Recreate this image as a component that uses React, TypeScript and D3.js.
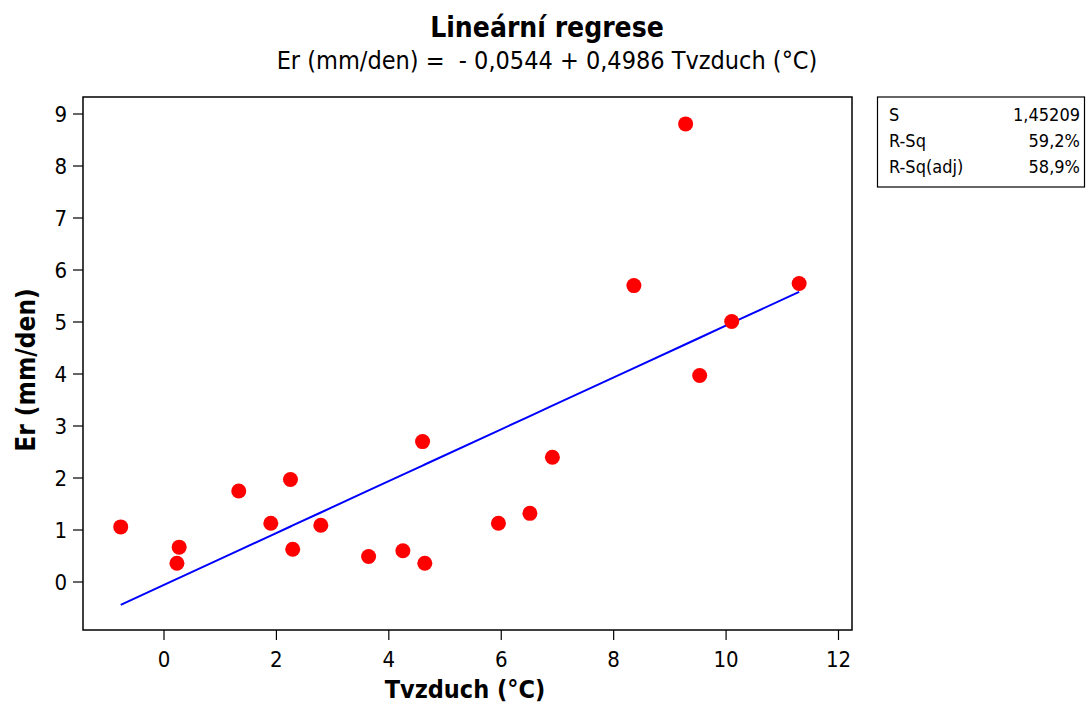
import * as d3 from "d3";

// Tvzduch (°C) vs Er (mm/den)
const tvzduch = [-0.77, 0.23, 0.27, 1.33, 1.9, 2.25, 2.29, 2.79, 3.64, 4.25, 4.64, 4.6, 5.95, 6.51, 6.91, 8.36, 9.28, 9.53, 10.1, 11.3];
const er = [1.06, 0.36, 0.67, 1.75, 1.13, 1.97, 0.63, 1.09, 0.49, 0.6, 0.36, 2.7, 1.13, 1.32, 2.4, 5.7, 8.81, 3.97, 5.01, 5.74];

const xTicks = [0, 2, 4, 6, 8, 10, 12];
const yTicks = [0, 1, 2, 3, 4, 5, 6, 7, 8, 9];

const intercept = -0.0544;
const slope = 0.4986;

const statLabels = ["S", "R-Sq", "R-Sq(adj)"];
const statValues = ["1,45209", "59,2%", "58,9%"];

const W = 1088;
const H = 706;
const FRAME = { left: 83, right: 852, top: 97, bottom: 630 };
const FONT = "'DejaVu Sans Condensed', 'DejaVu Sans', sans-serif";

export default function App() {
  const x = d3.scaleLinear().domain([0, 12]).range([164, 838.5]);
  const y = d3.scaleLinear().domain([0, 9]).range([582, 114]);

  const fitted = tvzduch
    .map((t) => ({ t, v: intercept + slope * t }))
    .sort((a, b) => a.t - b.t);

  const line = d3
    .line<{ t: number; v: number }>()
    .x((d) => x(d.t))
    .y((d) => y(d.v));

  return (
    <svg width={W} height={H} style={{ position: "absolute", left: 0, top: 0, background: "#fff" }} fontFamily={FONT}>
      {/* titles */}
      <text x={547} y={37} textAnchor="middle" fontSize={28} fontWeight="bold">
        Lineární regrese
      </text>
      <text x={547} y={69} textAnchor="middle" fontSize={25} style={{ whiteSpace: "pre" }}>
        {"Er (mm/den) =  - 0,0544 + 0,4986 Tvzduch (°C)"}
      </text>

      {/* plot frame */}
      <rect
        x={FRAME.left}
        y={FRAME.top}
        width={FRAME.right - FRAME.left}
        height={FRAME.bottom - FRAME.top}
        fill="none"
        stroke="#000"
        strokeWidth={1.5}
      />

      {/* x ticks */}
      {xTicks.map((t) => (
        <g key={"x" + t}>
          <line x1={x(t)} x2={x(t)} y1={FRAME.bottom} y2={FRAME.bottom + 10} stroke="#000" strokeWidth={1.2} />
          <text x={x(t)} y={667} textAnchor="middle" fontSize={22}>
            {t}
          </text>
        </g>
      ))}

      {/* y ticks */}
      {yTicks.map((t) => (
        <g key={"y" + t}>
          <line x1={FRAME.left - 10} x2={FRAME.left} y1={y(t)} y2={y(t)} stroke="#000" strokeWidth={1.2} />
          <text x={67} y={y(t) + 8} textAnchor="end" fontSize={22}>
            {t}
          </text>
        </g>
      ))}

      {/* axis labels */}
      <text x={465} y={698} textAnchor="middle" fontSize={25} fontWeight="bold">
        Tvzduch (°C)
      </text>
      <text transform="translate(35,370) rotate(-90)" textAnchor="middle" fontSize={26} fontWeight="bold">
        Er (mm/den)
      </text>

      {/* regression line */}
      <path d={line(fitted) || ""} fill="none" stroke="#0000ff" strokeWidth={2} />

      {/* points */}
      {tvzduch.map((t, i) => (
        <circle key={i} cx={x(t)} cy={y(er[i])} r={7.5} fill="#ff0000" />
      ))}

      {/* stats box */}
      <rect x={877.5} y={97} width={207} height={90} fill="#fff" stroke="#000" strokeWidth={1.2} />
      {statLabels.map((s, i) => (
        <g key={s}>
          <text x={889} y={121 + i * 26} fontSize={18}>
            {s}
          </text>
          <text x={1080} y={121 + i * 26} textAnchor="end" fontSize={18}>
            {statValues[i]}
          </text>
        </g>
      ))}
    </svg>
  );
}
